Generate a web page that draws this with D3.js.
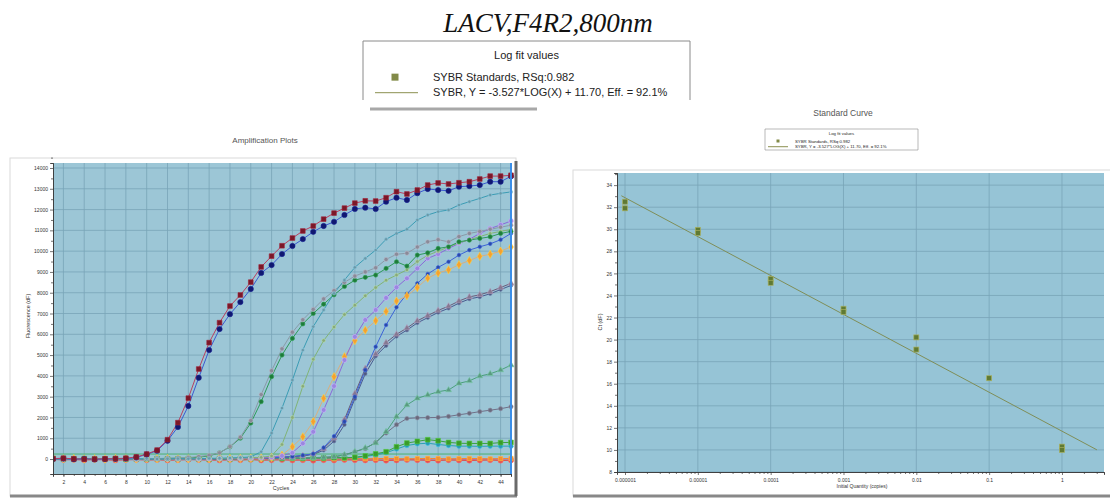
<!DOCTYPE html>
<html>
<head>
<meta charset="utf-8">
<script src="https://cdn.jsdelivr.net/npm/d3@7"></script>
<style>
  body { margin: 0; background: #fff; }
  svg { display: block; font-family: "Liberation Sans", Arial, sans-serif; }
</style>
</head>
<body>
<div id="container"></div>
<script>
// ---------------------------------------------------------------------
// Data: amplification plots (fluorescence dF per cycle)
const cycles = [1, 2, 3, 4, 5, 6, 7, 8, 9, 10, 11, 12, 13, 14, 15, 16, 17, 18, 19, 20, 21, 22, 23,
    24, 25, 26, 27, 28, 29, 30, 31, 32, 33, 34, 35, 36, 37, 38, 39, 40, 41, 42, 43, 44, 45];
const cycleTicks = [2, 4, 6, 8, 10, 12, 14, 16, 18, 20, 22, 24, 26, 28, 30, 32, 34, 36, 38, 40, 42, 44];
const fluorTicks = [0, 1000, 2000, 3000, 4000, 5000, 6000, 7000, 8000, 9000, 10000, 11000, 12000, 13000, 14000];
const threshold = 240;

const redSquares = [20, 40, 10, -10, 0, 10, 20, 40, 100, 240, 430, 930, 1750, 2930, 4330, 5600, 6560, 7360, 7890, 8510, 9240, 9760, 10260,
    10630, 10970, 11210, 11540, 11830, 12070, 12310, 12420, 12410, 12570, 12860, 12750, 12940, 13180, 13280, 13230, 13290, 13340, 13470, 13610, 13610, 13650];
const navyCircles = [0, 20, -10, 10, -20, 0, 10, 20, 80, 220, 400, 880, 1540, 2550, 3910, 5240, 6250, 6970, 7550, 8180, 8950, 9330, 9860,
    10250, 10580, 10930, 11210, 11410, 11740, 12030, 12090, 12030, 12380, 12570, 12460, 12790, 12990, 12940, 12900, 13100, 13130, 13180, 13340, 13340, 13600];
const tealHigh = [0, 10, 0, -10, 10, 0, 20, 0, 10, 20, 0, 10, 20, 10, 20, 30, 40, 50, 70, 100, 350, 1250, 2450,
    3800, 5240, 6370, 7170, 7970, 8610, 9220, 9650, 10050, 10570, 10850, 11050, 11500, 11740, 11900, 11980, 12220, 12380, 12540, 12700, 12780, 12850];
const grayEarly = [10, 0, 20, 0, -10, 10, 0, 20, 10, 30, 20, 40, 50, 70, 120, 180, 300, 600, 1050, 1850, 3100, 4250, 5300,
    6100, 6700, 7200, 7700, 8100, 8500, 8800, 9000, 9200, 9600, 9850, 9900, 10200, 10450, 10550, 10450, 10700, 10850, 10950, 11050, 11150, 11250];
const greenEarly = [0, 10, 0, 20, 0, 10, -10, 0, 20, 10, 20, 30, 40, 50, 90, 150, 300, 590, 1000, 1730, 2760, 3960, 5000,
    5800, 6500, 7000, 7450, 7900, 8300, 8600, 8740, 8850, 9170, 9490, 9280, 9810, 9920, 10130, 10210, 10450, 10530, 10610, 10690, 10850, 10950];
const oliveMid = [0, 0, 10, 0, 20, 0, 10, 0, 10, 20, 10, 0, 20, 10, 20, 30, 20, 40, 50, 60, 80, 150, 700,
    2000, 3500, 4800, 5700, 6350, 6950, 7400, 7850, 8250, 8600, 8850, 9100, 9500, 9800, 10000, 10200, 10400, 10550, 10700, 10850, 10950, 11050];
const lavender = [10, 0, -10, 10, 0, 20, 0, 10, 0, 10, 20, 0, 10, 20, 10, 20, 30, 20, 40, 40, 60, 90, 150,
    300, 750, 1310, 2360, 3510, 4760, 5880, 6690, 7170, 7750, 8260, 8690, 9170, 9650, 9860, 10130, 10370, 10570, 10850, 11090, 11260, 11450];
const orangeMid = [30, 10, 20, 0, 10, 0, 20, 10, 0, 20, 10, 20, 0, 10, 20, 10, 30, 20, 30, 40, 50, 80, 190,
    590, 1070, 1800, 2920, 3960, 4920, 5700, 6200, 6650, 7100, 7600, 7850, 8250, 8700, 8950, 9100, 9350, 9550, 9750, 9850, 10000, 10200];
const blueLate = [0, 10, 0, 10, -10, 0, 10, 0, 20, 0, 10, 20, 10, 0, 20, 10, 20, 30, 20, 40, 50, 60, 80,
    120, 180, 250, 550, 1100, 1800, 3000, 4280, 5400, 6450, 7300, 7950, 8450, 8900, 9220, 9490, 9810, 10050, 10210, 10350, 10550, 10850];
const darkTriangles = [10, 0, 20, 10, 0, 10, 0, 20, 10, 0, 10, 20, 0, 10, 20, 10, 20, 20, 30, 40, 50, 70, 90,
    120, 160, 250, 500, 1000, 1900, 3150, 4350, 5050, 5600, 6000, 6300, 6650, 6900, 7150, 7350, 7600, 7800, 7900, 8050, 8250, 8450];
const slateLate = [0, 10, 10, 0, 20, 0, 10, 10, 0, 20, 0, 10, 20, 0, 10, 20, 10, 30, 20, 30, 40, 60, 80,
    110, 150, 220, 420, 860, 1650, 2900, 4100, 4950, 5450, 5900, 6200, 6550, 6800, 7050, 7250, 7500, 7700, 7800, 7950, 8150, 8350];
const greenPlateau = [0, 10, 0, 20, 10, 0, 10, 20, 0, 10, 20, 10, 0, 20, 10, 30, 20, 10, 30, 20, 40, 30, 50,
    40, 60, 70, 80, 120, 200, 350, 530, 770, 1310, 2040, 2600, 2920, 3080, 3240, 3320, 3640, 3760, 3990, 4100, 4280, 4520];
const grayPlateau = [10, 0, 10, 0, 20, 10, 0, 10, 20, 0, 10, 0, 20, 10, 0, 20, 10, 30, 20, 30, 40, 30, 50,
    60, 50, 70, 80, 100, 200, 350, 500, 800, 1250, 1650, 1950, 1980, 1990, 2000, 2050, 2130, 2200, 2280, 2350, 2420, 2520];
const greenLow = [20, 0, 10, 20, 0, 10, 20, 0, 10, 0, 20, 10, 0, 20, 10, 0, 20, 10, 30, 20, 30, 40, 30,
    50, 40, 60, 50, 70, 60, 80, 150, 250, 350, 590, 770, 850, 930, 880, 800, 760, 750, 750, 750, 790, 800];
const tealLow = [0, 10, 0, 10, 20, 0, 10, 0, 20, 10, 0, 10, 20, 0, 10, 20, 10, 0, 20, 10, 30, 20, 30,
    40, 30, 50, 40, 60, 50, 70, 120, 200, 300, 480, 650, 730, 760, 700, 650, 620, 620, 610, 620, 620, 620];
const redBaseline = [-20, -40, -30, -50, -30, -40, -60, -40, -30, -50, -40, -60, -50, -30, -40, -50, -60, -40, -50, -30, -60, -50, -40,
    -60, -50, -70, -50, -60, -40, -50, -60, -50, -70, -60, -40, -50, -60, -70, -50, -60, -70, -60, -50, -70, -60];
const orangeBaseline = [30, 20, 10, 20, 0, 10, 20, 30, 10, 20, 0, 10, 30, 20, 10, 20, 30, 10, 20, 0, 10, 20, 30,
    20, 10, 30, 20, 10, 20, 30, 10, 20, 30, 20, 10, 20, 30, 20, 10, 20, 30, 20, 10, 20, 30];
const magentaBaseline = [-10, 0, -20, 10, 0, -10, 0, 10, -10, 0, -20, 0, 10, -10, 0, -20, 10, 0, -10, 0, -20, 0, 10,
    -10, 0, -10, 10, 0, -20, 0, -10, 10, 0, -20, 0, -10, 0, 10, -10, 0, -20, 0, -10, 0, 10];

// ---------------------------------------------------------------------
// Data: standard curve
const stdQuantity = [0.000001, 0.000001, 0.00001, 0.00001, 0.0001, 0.0001, 0.001, 0.001, 0.01, 0.01, 0.1, 1, 1];
const stdCt = [32.5, 31.9, 29.95, 29.65, 25.5, 25.15, 22.8, 22.5, 20.2, 19.1, 16.5, 10.3, 10.0];
const qtyTicks = [0.000001, 0.00001, 0.0001, 0.001, 0.01, 0.1, 1];
const qtyLabels = ["0.000001", "0.00001", "0.0001", "0.001", "0.01", "0.1", "1"];
const ctTicks = [8, 10, 12, 14, 16, 18, 20, 22, 24, 26, 28, 30, 32, 34];
const fitSlope = -3.527;
const fitIntercept = 11.70;
const fitExtent = [Math.pow(10, -6.05), Math.pow(10, 0.48)];

const legendLines = ["SYBR Standards, RSq:0.982", "SYBR, Y = -3.527*LOG(X) + 11.70, Eff. = 92.1%"];

// Draw order: low curves first, the two top curves last
const ampSeries = [
    { values: magentaBaseline, line: "#c85a9a", fill: "#c04a90", shape: d3.symbolCircle, size: 18 },
    { values: redBaseline, line: "#e04848", fill: "#e05050", shape: d3.symbolCircle, size: 22 },
    { values: orangeBaseline, line: "#f08a30", fill: "#f09030", shape: d3.symbolSquare, size: 18 },
    { values: tealLow, line: "#2aa0b4", fill: "#2a98b0", shape: d3.symbolCircle, size: 16 },
    { values: greenLow, line: "#3aa040", fill: "#3a9a2a", shape: d3.symbolSquare, size: 22 },
    { values: grayPlateau, line: "#707088", fill: "#6a6a7c", shape: d3.symbolCircle, size: 14 },
    { values: greenPlateau, line: "#4aa07c", fill: "#5a9a80", shape: d3.symbolTriangle, size: 16 },
    { values: slateLate, line: "#4a5a8e", fill: "#505a80", shape: d3.symbolCircle, size: 10 },
    { values: darkTriangles, line: "#6a5a7a", fill: "#857890", shape: d3.symbolTriangle, size: 16 },
    { values: blueLate, line: "#3c64d8", fill: "#2a48a8", shape: d3.symbolCircle, size: 10 },
    { values: orangeMid, line: "#d8b080", fill: "#f5a030", shape: d3.symbolDiamond, size: 20 },
    { values: lavender, line: "#8a6ad8", fill: "#9a86e0", shape: d3.symbolCircle, size: 18 },
    { values: oliveMid, line: "#80b476", fill: "#88a87a", shape: d3.symbolCircle, size: 10 },
    { values: greenEarly, line: "#2e9a5a", fill: "#1f7a3a", shape: d3.symbolCircle, size: 14 },
    { values: grayEarly, line: "#8a9aa8", fill: "#8a8a98", shape: d3.symbolCircle, size: 14 },
    { values: tealHigh, line: "#3b9cb4", fill: "#6a98a8", shape: d3.symbolCircle, size: 9 },
    { values: navyCircles, line: "#3a5ad0", fill: "#101870", shape: d3.symbolCircle, size: 22 },
    { values: redSquares, line: "#b84060", fill: "#7a1828", shape: d3.symbolSquare, size: 22 },
];

const W = 1110, H = 498;
const gridColor = "#78a5b8";
const axisColor = "#3a3a3a";

const svg = d3.select("#container").append("svg")
    .attr("width", W).attr("height", H);

// ---------------------------------------------------------------------
// Page title and big legend
svg.append("text")
    .attr("x", 548).attr("y", 32)
    .attr("text-anchor", "middle")
    .style("font-family", "'Liberation Serif', 'Times New Roman', serif")
    .style("font-style", "italic")
    .style("font-size", "27px")
    .attr("fill", "#111")
    .text("LACV,F4R2,800nm");

function drawLegend(g, box, fs) {
    // box: left, top, right, bottom, textX, rows y, marker x
    g.append("path")
        .attr("d", `M${box.left},${box.bottom} V${box.top} H${box.right} V${box.bottom}` + (box.closed ? ` H${box.left}` : ""))
        .attr("fill", box.closed ? "#fff" : "none")
        .attr("stroke", "#8a8a8a")
        .attr("stroke-width", box.stroke);
    g.append("text")
        .attr("x", (box.left + box.right) / 2).attr("y", box.rows[0])
        .attr("text-anchor", "middle")
        .style("font-size", fs + "px").attr("fill", "#222")
        .text("Log fit values");
    legendLines.forEach((t, i) => {
        g.append("text")
            .attr("x", box.textX).attr("y", box.rows[i + 1])
            .style("font-size", fs + "px").attr("fill", "#222")
            .text(t);
    });
    g.append("rect")
        .attr("x", box.markerX - box.marker / 2).attr("y", box.rows[1] - fs * 0.35 - box.marker / 2)
        .attr("width", box.marker).attr("height", box.marker)
        .attr("fill", "#828a48");
    g.append("line")
        .attr("x1", box.lineX[0]).attr("x2", box.lineX[1])
        .attr("y1", box.rows[2] - fs * 0.3).attr("y2", box.rows[2] - fs * 0.3)
        .attr("stroke", "#8c9050").attr("stroke-width", 1);
}

drawLegend(svg.append("g"), {
    left: 363, top: 41, right: 690, bottom: 100, closed: false, stroke: 1,
    textX: 433, rows: [59, 81, 96], markerX: 395, marker: 7, lineX: [375, 418],
}, 11);
svg.append("line")
    .attr("x1", 370).attr("x2", 537).attr("y1", 109).attr("y2", 109)
    .attr("stroke", "#a8a8a8").attr("stroke-width", 3);

// ---------------------------------------------------------------------
// Window frames
function drawFrame(x0, y0, x1, y1, rightEdge) {
    svg.append("rect")
        .attr("x", x0).attr("y", y0).attr("width", x1 - x0).attr("height", y1 - y0)
        .attr("fill", "#fff").attr("stroke", "#dadada").attr("stroke-width", 1);
    svg.append("line")
        .attr("x1", x0).attr("x2", x1 + 1).attr("y1", y1).attr("y2", y1)
        .attr("stroke", "#888").attr("stroke-width", 3);
    if (rightEdge) {
        svg.append("line")
            .attr("x1", x1).attr("x2", x1).attr("y1", y0 + 3).attr("y2", y1)
            .attr("stroke", "#6a6a6a").attr("stroke-width", 3);
    }
}
drawFrame(10, 158, 516, 496, true);
drawFrame(573, 170, 1112, 496, false);

// ---------------------------------------------------------------------
// Amplification plots
function renderAmplification() {
    const left = 53, right = 511, top = 163, bottom = 474;
    const x = d3.scaleLinear().domain([1, 45]).range([left, right]);
    const y = d3.scaleLinear().domain([-720, 14240]).range([bottom, top]);
    const g = svg.append("g");

    g.append("text")
        .attr("x", 265).attr("y", 143).attr("text-anchor", "middle")
        .style("font-size", "8px").attr("fill", "#555")
        .text("Amplification Plots");

    g.append("rect")
        .attr("x", left).attr("y", top).attr("width", right - left).attr("height", bottom - top)
        .attr("fill", "#9cc6d6");

    g.append("defs").append("clipPath").attr("id", "ampClip")
        .append("rect")
        .attr("x", left).attr("y", top - 4).attr("width", right - left + 4).attr("height", bottom - top + 4);

    // grid
    g.append("g").selectAll("line").data(cycleTicks).join("line")
        .attr("x1", d => x(d)).attr("x2", d => x(d))
        .attr("y1", top).attr("y2", bottom)
        .attr("stroke", gridColor).attr("stroke-width", 0.8);
    g.append("g").selectAll("line").data(fluorTicks).join("line")
        .attr("x1", left).attr("x2", right)
        .attr("y1", d => y(d)).attr("y2", d => y(d))
        .attr("stroke", gridColor).attr("stroke-width", 0.8);

    const plot = g.append("g").attr("clip-path", "url(#ampClip)");

    // threshold
    plot.append("line")
        .attr("x1", left).attr("x2", right)
        .attr("y1", y(threshold)).attr("y2", y(threshold))
        .attr("stroke", "#4cb070").attr("stroke-width", 1);

    const line = d3.line()
        .x((v, i) => x(cycles[i]))
        .y(v => y(v));

    ampSeries.forEach(s => {
        plot.append("path")
            .datum(s.values)
            .attr("fill", "none")
            .attr("stroke", s.line)
            .attr("stroke-width", 1)
            .attr("d", line);
    });
    ampSeries.forEach(s => {
        const sym = d3.symbol().type(s.shape).size(s.size);
        plot.append("g").selectAll("path").data(s.values).join("path")
            .attr("transform", (v, i) => `translate(${x(cycles[i])},${y(v)})`)
            .attr("d", sym)
            .attr("fill", s.fill)
            .attr("stroke", d3.color(s.fill).brighter(0.8))
            .attr("stroke-width", 0.6);
    });

    // blue cursor line at the right edge
    g.append("line")
        .attr("x1", right).attr("x2", right).attr("y1", top).attr("y2", bottom)
        .attr("stroke", "#3a8ee8").attr("stroke-width", 2);

    // axes
    const yAxis = g.append("g")
        .attr("transform", `translate(${left},0)`)
        .call(d3.axisLeft(y).tickValues(fluorTicks).tickSize(3).tickPadding(2).tickFormat(d3.format("d")));
    g.append("g")
        .attr("transform", `translate(${left},0)`)
        .call(d3.axisLeft(y).tickValues(fluorTicks.map(d => d + 500)).tickSize(2).tickFormat(""));
    const xAxis = g.append("g")
        .attr("transform", `translate(0,${bottom})`)
        .call(d3.axisBottom(x).tickValues(cycleTicks).tickSize(3).tickPadding(3));
    g.append("g")
        .attr("transform", `translate(0,${bottom})`)
        .call(d3.axisBottom(x).tickValues(cycles).tickSize(2).tickFormat(""));
    styleAxes(g);

    g.append("text")
        .attr("transform", "translate(30,316) rotate(-90)")
        .attr("text-anchor", "middle")
        .style("font-size", "5.5px").attr("fill", "#333")
        .text("Fluorescence (dF)");
    g.append("text")
        .attr("x", 281).attr("y", 490).attr("text-anchor", "middle")
        .style("font-size", "5.5px").attr("fill", "#333")
        .text("Cycles");
}

// ---------------------------------------------------------------------
// Standard curve
function renderStandardCurve() {
    const left = 617, right = 1104, top = 173, bottom = 472;
    const x = d3.scaleLog().domain([Math.pow(10, -6.11), Math.pow(10, 0.577)]).range([left, right]);
    const y = d3.scaleLinear().domain([8, 35.1]).range([bottom, top]);
    const g = svg.append("g");

    g.append("text")
        .attr("x", 843).attr("y", 116).attr("text-anchor", "middle")
        .style("font-size", "8.5px").attr("fill", "#555")
        .text("Standard Curve");

    drawLegend(g, {
        left: 765, top: 129, right: 918, bottom: 150, closed: true, stroke: 0.6,
        textX: 795, rows: [135, 142.5, 148], markerX: 778, marker: 3, lineX: [768, 788],
    }, 4.3);

    g.append("rect")
        .attr("x", left).attr("y", top).attr("width", right - left).attr("height", bottom - top)
        .attr("fill", "#96c4d6");

    g.append("g").selectAll("line").data(qtyTicks).join("line")
        .attr("x1", d => x(d)).attr("x2", d => x(d))
        .attr("y1", top).attr("y2", bottom)
        .attr("stroke", gridColor).attr("stroke-width", 0.8);
    g.append("g").selectAll("line").data(ctTicks).join("line")
        .attr("x1", left).attr("x2", right)
        .attr("y1", d => y(d)).attr("y2", d => y(d))
        .attr("stroke", gridColor).attr("stroke-width", 0.8);

    // regression line from the fitted equation
    const fit = fitExtent.map(q => ({ q, ct: fitSlope * Math.log10(q) + fitIntercept }));
    g.append("path")
        .datum(fit)
        .attr("fill", "none")
        .attr("stroke", "#7f8e58")
        .attr("stroke-width", 1)
        .attr("d", d3.line().x(d => x(d.q)).y(d => y(d.ct)));

    g.append("g").selectAll("rect").data(stdQuantity).join("rect")
        .attr("x", d => x(d) - 2.5)
        .attr("y", (d, i) => y(stdCt[i]) - 2.5)
        .attr("width", 5).attr("height", 5)
        .attr("fill", "#5f7a34")
        .attr("stroke", "#a8b060").attr("stroke-width", 0.7);

    const minorQty = [];
    qtyTicks.forEach(q => [2, 3, 4, 5, 6, 7, 8, 9].forEach(m => {
        if (q * m <= x.domain()[1]) minorQty.push(q * m);
    }));

    g.append("g")
        .attr("transform", `translate(${left},0)`)
        .call(d3.axisLeft(y).tickValues(ctTicks).tickSize(3).tickPadding(2));
    g.append("g")
        .attr("transform", `translate(${left},0)`)
        .call(d3.axisLeft(y).tickValues(ctTicks.map(d => d + 1)).tickSize(2).tickFormat(""));
    g.append("g")
        .attr("transform", `translate(0,${bottom})`)
        .call(d3.axisBottom(x).tickValues(qtyTicks).tickSize(3).tickPadding(3)
            .tickFormat((d, i) => qtyLabels[i]));
    g.append("g")
        .attr("transform", `translate(0,${bottom})`)
        .call(d3.axisBottom(x).tickValues(minorQty).tickSize(2).tickFormat(""));
    styleAxes(g);

    g.append("text")
        .attr("transform", "translate(602,322) rotate(-90)")
        .attr("text-anchor", "middle")
        .style("font-size", "5.5px").attr("fill", "#333")
        .text("Ct (dF)");
    g.append("text")
        .attr("x", 862).attr("y", 488).attr("text-anchor", "middle")
        .style("font-size", "5px").attr("fill", "#333")
        .text("Initial Quantity (copies)");
}

function styleAxes(g) {
    g.selectAll(".domain").attr("stroke", axisColor).attr("stroke-width", 0.8);
    g.selectAll(".tick line").attr("stroke", axisColor).attr("stroke-width", 0.7);
    g.selectAll(".tick text").style("font-size", "5px").attr("fill", "#333");
}

renderAmplification();
renderStandardCurve();
</script>
</body>
</html>
